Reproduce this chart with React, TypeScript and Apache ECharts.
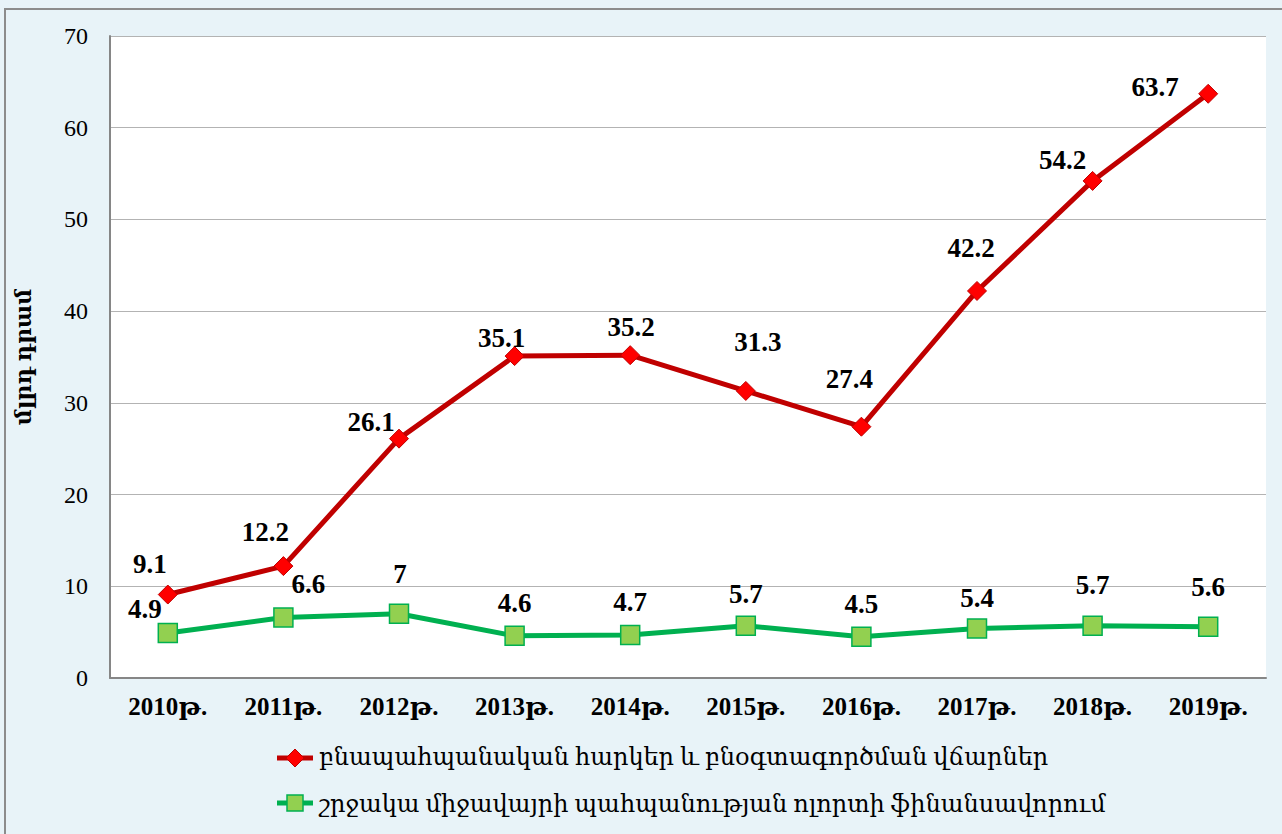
import React, { useEffect, useRef } from "react";
import * as echarts from "echarts";

const categories = ["2010թ.", "2011թ.", "2012թ.", "2013թ.", "2014թ.", "2015թ.", "2016թ.", "2017թ.", "2018թ.", "2019թ."];
const seriesRedName = "բնապահպանական հարկեր և բնօգտագործման վճարներ";
const seriesGreenName = "շրջակա միջավայրի պահպանության ոլորտի ֆինանսավորում";
const redValues = [9.1, 12.2, 26.1, 35.1, 35.2, 31.3, 27.4, 42.2, 54.2, 63.7];
const greenValues = [4.9, 6.6, 7, 4.6, 4.7, 5.7, 4.5, 5.4, 5.7, 5.6];
const yTitle = "մլրդ դրամ";

// label offsets (style only)
const redLabelOffsets: [number, number][] = [
  [-18, 1], [-18, -3], [-28, 15], [-13, 13], [1, 3], [12, -17], [-12, -16], [-6, -11], [-30, 11], [-53, 25],
];
const greenLabelOffsets: [number, number][] = [
  [-23, 8], [25, -2], [1, -8], [0, -1], [0, -1], [0, 0], [0, -1], [0, 1], [0, -9], [0, -8],
];

const FONT = "'Liberation Serif', 'DejaVu Serif', serif";
const RED_LINE = "#c00000";
const RED_MARK = "#ff0000";
const GREEN_LINE = "#00b050";
const GREEN_MARK = "#92d050";

export default function App() {
  const ref = useRef<HTMLDivElement>(null);
  useEffect(() => {
    const chart = echarts.init(ref.current!, null, { renderer: "svg" });
    const labelBase = {
      show: true,
      position: "top" as const,
      fontFamily: FONT,
      fontWeight: "bold" as const,
      fontSize: 27,
      color: "#000",
      distance: 8,
    };
    const legendTop = 744;
    const legendRow1 = 758;
    const legendRow2 = 803;
    chart.setOption({
      animation: false,
      backgroundColor: "#e8f3f8",
      graphic: [
        {
          type: "rect",
          shape: { x: 5, y: 9, width: 1290, height: 840 },
          style: { fill: "none", stroke: "#8c8c8c", lineWidth: 2 },
          silent: true,
        },
        // legend icons (drawn over the transparent legend icons)
        { type: "line", shape: { x1: 277, y1: legendRow1, x2: 313, y2: legendRow1 }, style: { stroke: RED_LINE, lineWidth: 5 }, z: 10, silent: true },
        { type: "polygon", shape: { points: [[295, legendRow1 - 9], [304, legendRow1], [295, legendRow1 + 9], [286, legendRow1]] }, style: { fill: RED_MARK, stroke: RED_LINE, lineWidth: 1 }, z: 11, silent: true },
        { type: "line", shape: { x1: 277, y1: legendRow2, x2: 313, y2: legendRow2 }, style: { stroke: GREEN_LINE, lineWidth: 5 }, z: 10, silent: true },
        { type: "rect", shape: { x: 287, y: legendRow2 - 8, width: 16, height: 16 }, style: { fill: GREEN_MARK, stroke: GREEN_LINE, lineWidth: 1.5 }, z: 11, silent: true },
      ],
      grid: {
        left: 110,
        top: 36,
        right: 16,
        bottom: 156,
        show: true,
        backgroundColor: "#ffffff",
        borderWidth: 0,
      },
      legend: {
        orient: "vertical",
        left: 277,
        top: legendTop,
        padding: 0,
        itemGap: 21,
        itemWidth: 36,
        itemHeight: 24,
        textStyle: { fontFamily: FONT, fontSize: 24, color: "#000" },
        data: [
          { name: seriesRedName, icon: "rect", itemStyle: { opacity: 0 } },
          { name: seriesGreenName, icon: "rect", itemStyle: { opacity: 0 } },
        ],
      },
      xAxis: {
        type: "category",
        data: categories,
        boundaryGap: true,
        axisLine: { lineStyle: { color: "#868686", width: 2 } },
        axisTick: { show: false },
        axisLabel: {
          fontFamily: FONT,
          fontWeight: "bold",
          fontSize: 25,
          color: "#000",
          margin: 16,
        },
      },
      yAxis: {
        type: "value",
        min: 0,
        max: 70,
        interval: 10,
        name: yTitle,
        nameLocation: "middle",
        nameGap: 76,
        nameRotate: 90,
        nameTextStyle: { fontFamily: FONT, fontWeight: "bold", fontSize: 22, color: "#000" },
        axisLine: { show: true, lineStyle: { color: "#868686", width: 2 } },
        axisTick: { show: false },
        splitLine: { lineStyle: { color: "#b3b3b3", width: 1 } },
        axisLabel: { fontFamily: FONT, fontSize: 24, color: "#000", margin: 22 },
      },
      series: [
        {
          name: seriesRedName,
          type: "line",
          data: redValues.map((v, i) => ({ value: v, label: { offset: redLabelOffsets[i] } })),
          symbol: "diamond",
          symbolSize: 19,
          lineStyle: { color: RED_LINE, width: 5 },
          itemStyle: { color: RED_MARK, borderColor: RED_LINE, borderWidth: 1 },
          label: labelBase,
          z: 3,
        },
        {
          name: seriesGreenName,
          type: "line",
          data: greenValues.map((v, i) => ({ value: v, label: { offset: greenLabelOffsets[i] } })),
          symbol: "rect",
          symbolSize: 19,
          lineStyle: { color: GREEN_LINE, width: 5 },
          itemStyle: { color: GREEN_MARK, borderColor: GREEN_LINE, borderWidth: 1.5 },
          label: labelBase,
          z: 2,
        },
      ],
    });
    return () => chart.dispose();
  }, []);
  return (
    <div
      ref={ref}
      style={{ position: "fixed", left: 0, top: 0, width: 1282, height: 834 }}
    />
  );
}
